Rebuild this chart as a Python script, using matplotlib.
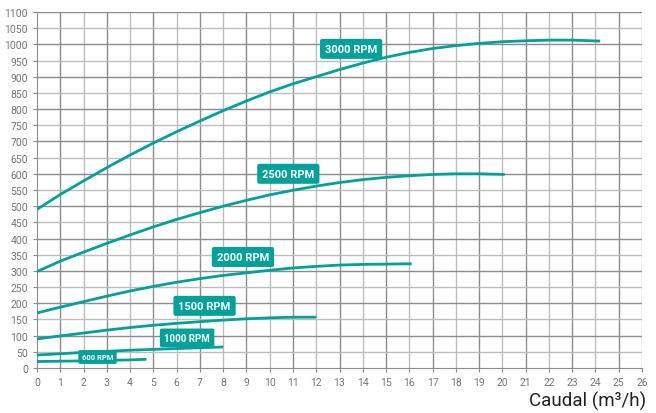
import numpy as np
import matplotlib.pyplot as plt
from matplotlib.ticker import MultipleLocator

plt.rcParams['font.family'] = ['Roboto', 'DejaVu Sans']

# Curve data (Caudal m3/h vs. value)
q_3000 = [0, 1, 2, 3, 4, 5, 6, 7, 8, 9, 10, 11, 12, 13, 14, 15, 16, 17, 18, 19, 20, 21, 22, 23, 24.2]
h_3000 = [490, 536, 578, 619, 658, 695, 730, 763, 795, 825, 853, 878, 900, 922, 942, 960, 975, 987, 996, 1003, 1008, 1011, 1013, 1013, 1010]

q_2500 = [0, 1, 2, 3, 4, 5, 6, 7, 8, 9, 10, 11, 12, 13, 14, 15, 16, 17, 18, 19, 20.1]
h_2500 = [298, 330, 358, 385, 411, 436, 459, 480, 500, 518, 535, 549, 562, 573, 582, 589, 594, 598, 600, 600, 598]

q_2000 = [0, 1, 2, 3, 4, 5, 6, 7, 8, 9, 10, 11, 12, 13, 14, 15, 16.1]
h_2000 = [170, 188, 205, 222, 238, 252, 265, 276, 286, 294, 302, 309, 314, 318, 320, 321, 322]

q_1500 = [0, 1, 2, 3, 4, 5, 6, 7, 8, 9, 10, 11, 12]
h_1500 = [90, 99, 108, 117, 125, 132, 138, 143, 148, 152, 155, 157, 157]

q_1000 = [0, 2, 4, 6, 8]
h_1000 = [40, 48, 55, 60, 65]

q_600 = [0, 2, 4, 4.7]
h_600 = [20, 22, 25, 27]

labels = ['3000 RPM', '2500 RPM', '2000 RPM', '1500 RPM', '1000 RPM', '600 RPM']
label_x = [13.5, 10.8, 8.85, 7.2, 6.45, 2.6]
label_y = [986, 600, 343, 192, 93, 34]
label_size = [8, 8, 8, 8, 7, 5.5]

teal = '#00a19b'

fig = plt.figure(figsize=(6.56, 4.14), dpi=100)
ax = fig.add_axes([0.0564, 0.1087, 0.9223, 0.86])

curves = [(q_3000, h_3000), (q_2500, h_2500), (q_2000, h_2000),
          (q_1500, h_1500), (q_1000, h_1000), (q_600, h_600)]
for q, h in curves:
    ax.plot(q, h, color=teal, linewidth=2, solid_capstyle='butt', zorder=3)

for txt, x, y, s in zip(labels, label_x, label_y, label_size):
    ax.text(x, y, txt, color='white', fontsize=s, fontweight='bold',
            ha='center', va='center', zorder=4,
            bbox=dict(boxstyle='round,pad=0.45,rounding_size=0.2',
                      fc=teal, ec='none'))

ax.set_xlim(0, 26)
ax.set_ylim(0, 1100)
ax.xaxis.set_major_locator(MultipleLocator(1))
ax.yaxis.set_major_locator(MultipleLocator(50))

# alternating grid shades
for x in range(1, 27):
    ax.axvline(x, color='#8c8c8c' if x % 2 else '#bdbdbd', linewidth=1, zorder=1)
for y in range(50, 1101, 50):
    ax.axhline(y, color='#8c8c8c' if y % 100 == 0 else '#bdbdbd', linewidth=1, zorder=1)

for s in ['top', 'right']:
    ax.spines[s].set_visible(False)
for s in ['left', 'bottom']:
    ax.spines[s].set_color('#8c8c8c')
ax.tick_params(colors='#8c8c8c', labelcolor='#757575', labelsize=7.5, length=3)

fig.text(0.985, 0.008, 'Caudal (m³/h)', ha='right', va='bottom',
         fontsize=13.5, color='#222222')

plt.savefig('out.png', dpi=100)
